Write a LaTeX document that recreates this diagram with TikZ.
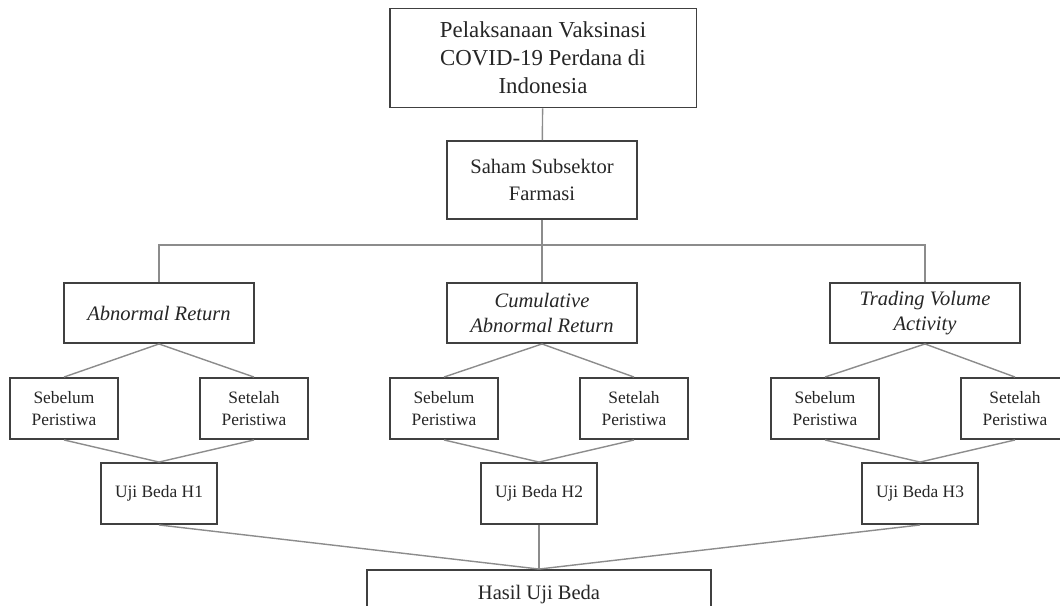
\documentclass[tikz,border=0pt]{standalone}
\usepackage{fontspec}
\setmainfont{Liberation Serif}

\tikzset{
  box/.style={draw=black!75, line width=1.1pt, fill=white, align=center,
    text=black!85, inner sep=2pt},
  bigbox/.style={box, font=\fontsize{11.7}{15.2}\selectfont},
  levelbox/.style={bigbox, font=\fontsize{11.7}{14.7}\selectfont\itshape,
    minimum width=3.8cm, minimum height=1.2cm},
  smallbox/.style={box, font=\fontsize{9.9}{12.4}\selectfont,
    minimum width=2.16cm, minimum height=1.22cm},
  link/.style={draw=black!45, line width=0.8pt}
}

\begin{document}
\begin{tikzpicture}[x=0.02cm, y=-0.02cm]
  \useasboundingbox (0,0) rectangle (1060,605);

  % top of the tree
  \node[bigbox, font=\fontsize{13}{16}\selectfont, minimum width=6.14cm,
    minimum height=1.98cm] (vaksin) at (543,58)
    {Pelaksanaan Vaksinasi\\COVID-19 Perdana di\\Indonesia};
  \node[bigbox, minimum width=3.8cm, minimum height=1.56cm] (saham) at (542,180)
    {Saham Subsektor\\Farmasi};
  \draw[link] (vaksin) -- (saham);

  % variables
  \foreach \b/\x/\txt in {ar/159/{Abnormal Return},
      car/542/{Cumulative\\Abnormal Return},
      tva/925/{Trading Volume\\Activity}} {
    \node[levelbox] (\b) at (\x,313) {\txt};
  }

  % fork below the sector
  \coordinate (fork) at (542,245);
  \draw[link] (saham) -- (fork);
  \draw[link] (ar.north) |- (fork) -| (tva.north);
  \draw[link] (fork) -- (car.north);

  % hasil
  \node[bigbox, minimum width=6.88cm, minimum height=1.0cm] (hasil) at (539,595)
    {Hasil Uji Beda};

  % before / after and the tests
  \foreach \b/\u/\h in {ar/159/1, car/539/2, tva/920/3} {
    \node[smallbox] (sb-\b) at (\u-95,408.5) {Sebelum\\Peristiwa};
    \node[smallbox] (st-\b) at (\u+95,408.5) {Setelah\\Peristiwa};
    \node[smallbox, minimum width=2.32cm] (uji-\b) at (\u,493.5) {Uji Beda H\h};
    \draw[link] (\b.south) -- (sb-\b.north);
    \draw[link] (\b.south) -- (st-\b.north);
    \draw[link] (sb-\b.south) -- (uji-\b.north);
    \draw[link] (st-\b.south) -- (uji-\b.north);
    \draw[link] (uji-\b.south) -- (hasil.north);
  }
\end{tikzpicture}
\end{document}
